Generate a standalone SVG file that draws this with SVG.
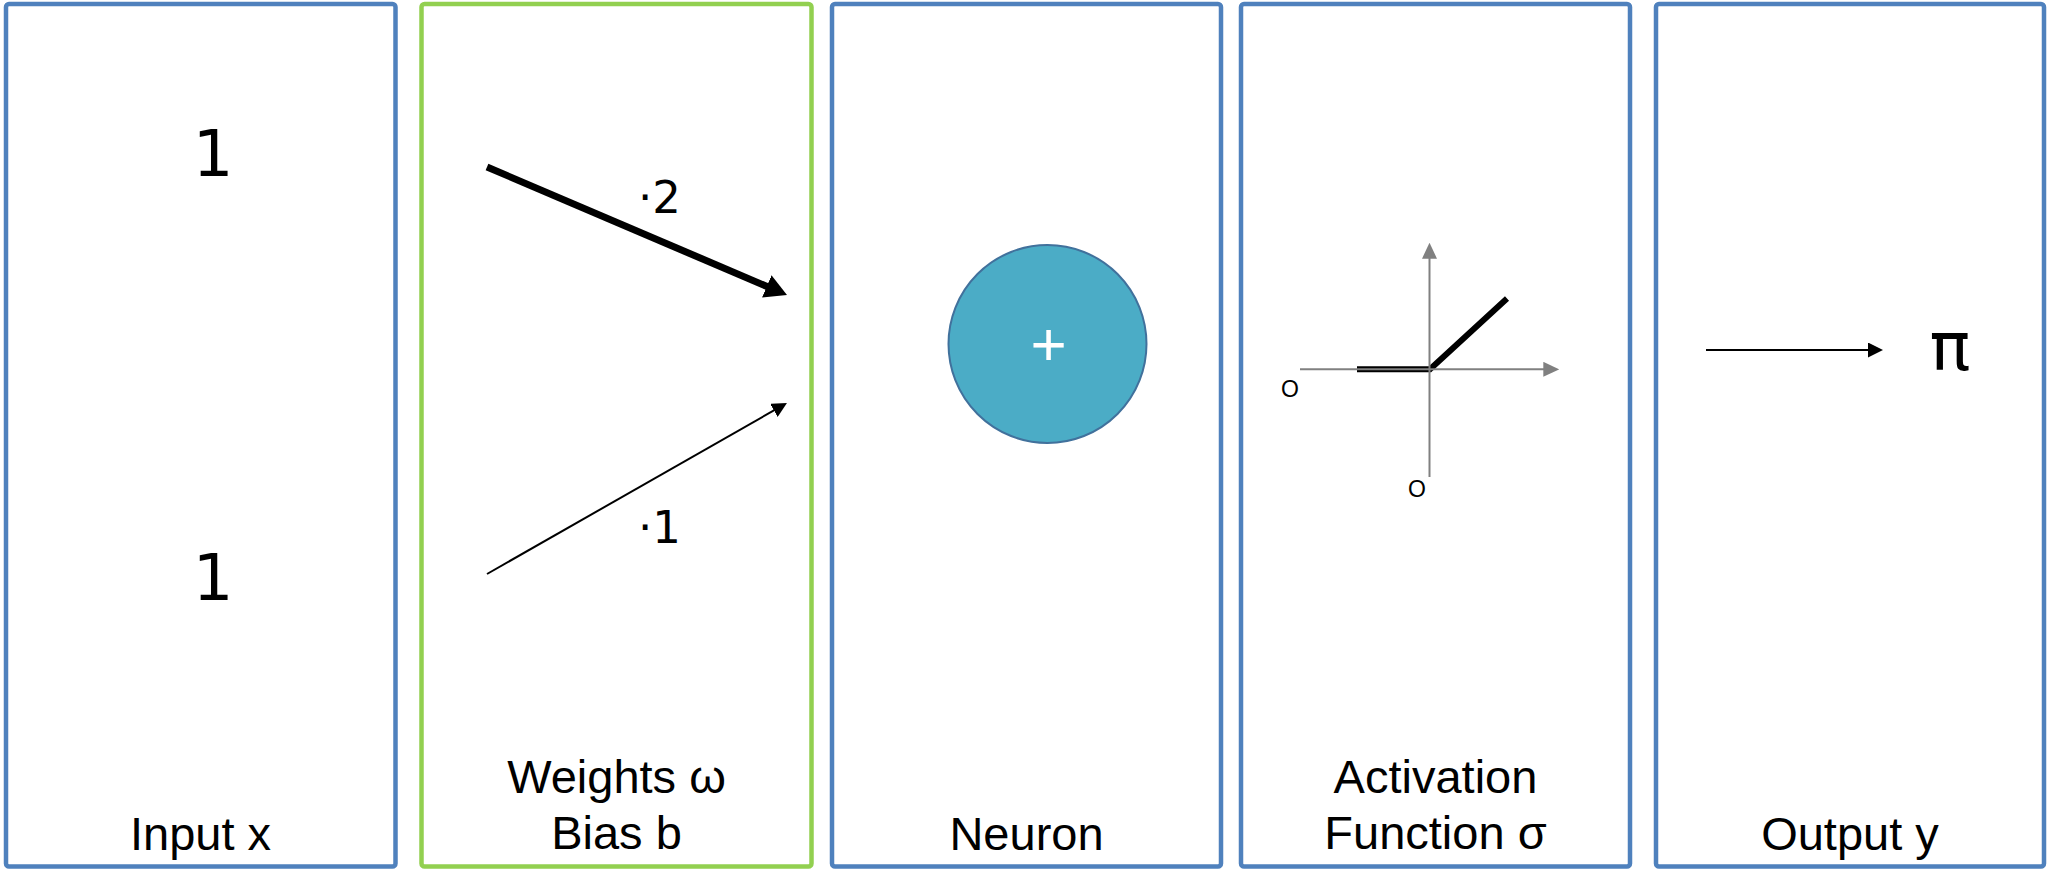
<svg xmlns="http://www.w3.org/2000/svg" width="2047" height="870" viewBox="0 0 2047 870">
<style>
.panel{fill:#ffffff;stroke:#4F81BD;stroke-width:4.5}
.green{stroke:#92D050}
.lbl{font-family:"Liberation Sans",Arial,sans-serif;font-size:47px;fill:#000;text-anchor:middle}
.num{font-family:"DejaVu Sans",sans-serif;fill:#000}
.axis{stroke:#808080;stroke-width:2;fill:none}
.o{font-family:"Liberation Sans",Arial,sans-serif;font-size:23px;fill:#000;text-anchor:middle}
</style>
<defs>
<marker id="headBig" markerUnits="userSpaceOnUse" markerWidth="22" markerHeight="24" refX="1" refY="12" orient="auto"><path d="M0,0 L22,12 L0,24 Z" fill="#000"/></marker>
<marker id="headSmall" markerUnits="userSpaceOnUse" markerWidth="15" markerHeight="15" refX="1" refY="7.5" orient="auto"><path d="M0,0 L15,7.5 L0,15 Z" fill="#000"/></marker>
<marker id="headGray" markerUnits="userSpaceOnUse" markerWidth="16" markerHeight="15" refX="1" refY="7.5" orient="auto"><path d="M0,0 L16,7.5 L0,15 Z" fill="#808080"/></marker>
</defs>

<g id="panel-input">
<rect class="panel" x="6" y="4" width="389.5" height="862.5" rx="3"/>
<text class="num" x="213" y="176" font-size="64" text-anchor="middle">1</text>
<text class="num" x="213" y="600" font-size="64" text-anchor="middle">1</text>
<text class="lbl" x="200.5" y="850">Input x</text>
</g>

<g id="panel-weights">
<rect class="panel green" x="421.5" y="4" width="390" height="862.5" rx="3"/>
<text class="num" x="638" y="213" font-size="45">·2</text>
<text class="num" x="638" y="543" font-size="45">·1</text>
<text class="lbl" x="616.5" y="793">Weights ω</text>
<text class="lbl" x="616.5" y="849">Bias b</text>
</g>

<g id="panel-neuron">
<rect class="panel" x="832" y="4" width="389" height="862.5" rx="3"/>
<circle cx="1047.5" cy="344" r="99" fill="#4BACC6" stroke="#41719C" stroke-width="2"/>
<text x="1048.5" y="364.5" font-family="Liberation Sans,Arial,sans-serif" font-size="62" fill="#ffffff" text-anchor="middle">+</text>
<text class="lbl" x="1026.5" y="850">Neuron</text>
</g>

<g id="panel-activation">
<rect class="panel" x="1241" y="4" width="389" height="862.5" rx="3"/>
<polyline points="1357,369.3 1430,369.3 1507,298.5" fill="none" stroke="#000" stroke-width="6"/>
<line class="axis" x1="1300" y1="369.3" x2="1544.3" y2="369.3" marker-end="url(#headGray)"/>
<line class="axis" x1="1429.5" y1="477" x2="1429.5" y2="257.7" marker-end="url(#headGray)"/>
<text class="o" x="1290" y="397">O</text>
<text class="o" x="1417" y="497">O</text>
<text class="lbl" x="1435.5" y="793">Activation</text>
<text class="lbl" x="1435.5" y="849">Function σ</text>
</g>

<g id="panel-output">
<rect class="panel" x="1656" y="4" width="388" height="862.5" rx="3"/>
<text class="num" x="1950" y="370" font-size="68" text-anchor="middle">π</text>
<text class="lbl" x="1850" y="850">Output y</text>
</g>

<g id="connectors">
<line x1="487" y1="167" x2="767.7" y2="286.8" stroke="#000" stroke-width="7" marker-end="url(#headBig)"/>
<line x1="487" y1="574" x2="774.8" y2="409.9" stroke="#000" stroke-width="2" marker-end="url(#headSmall)"/>
<line x1="1706" y1="350" x2="1869" y2="350" stroke="#000" stroke-width="2" marker-end="url(#headSmall)"/>
</g>
</svg>
